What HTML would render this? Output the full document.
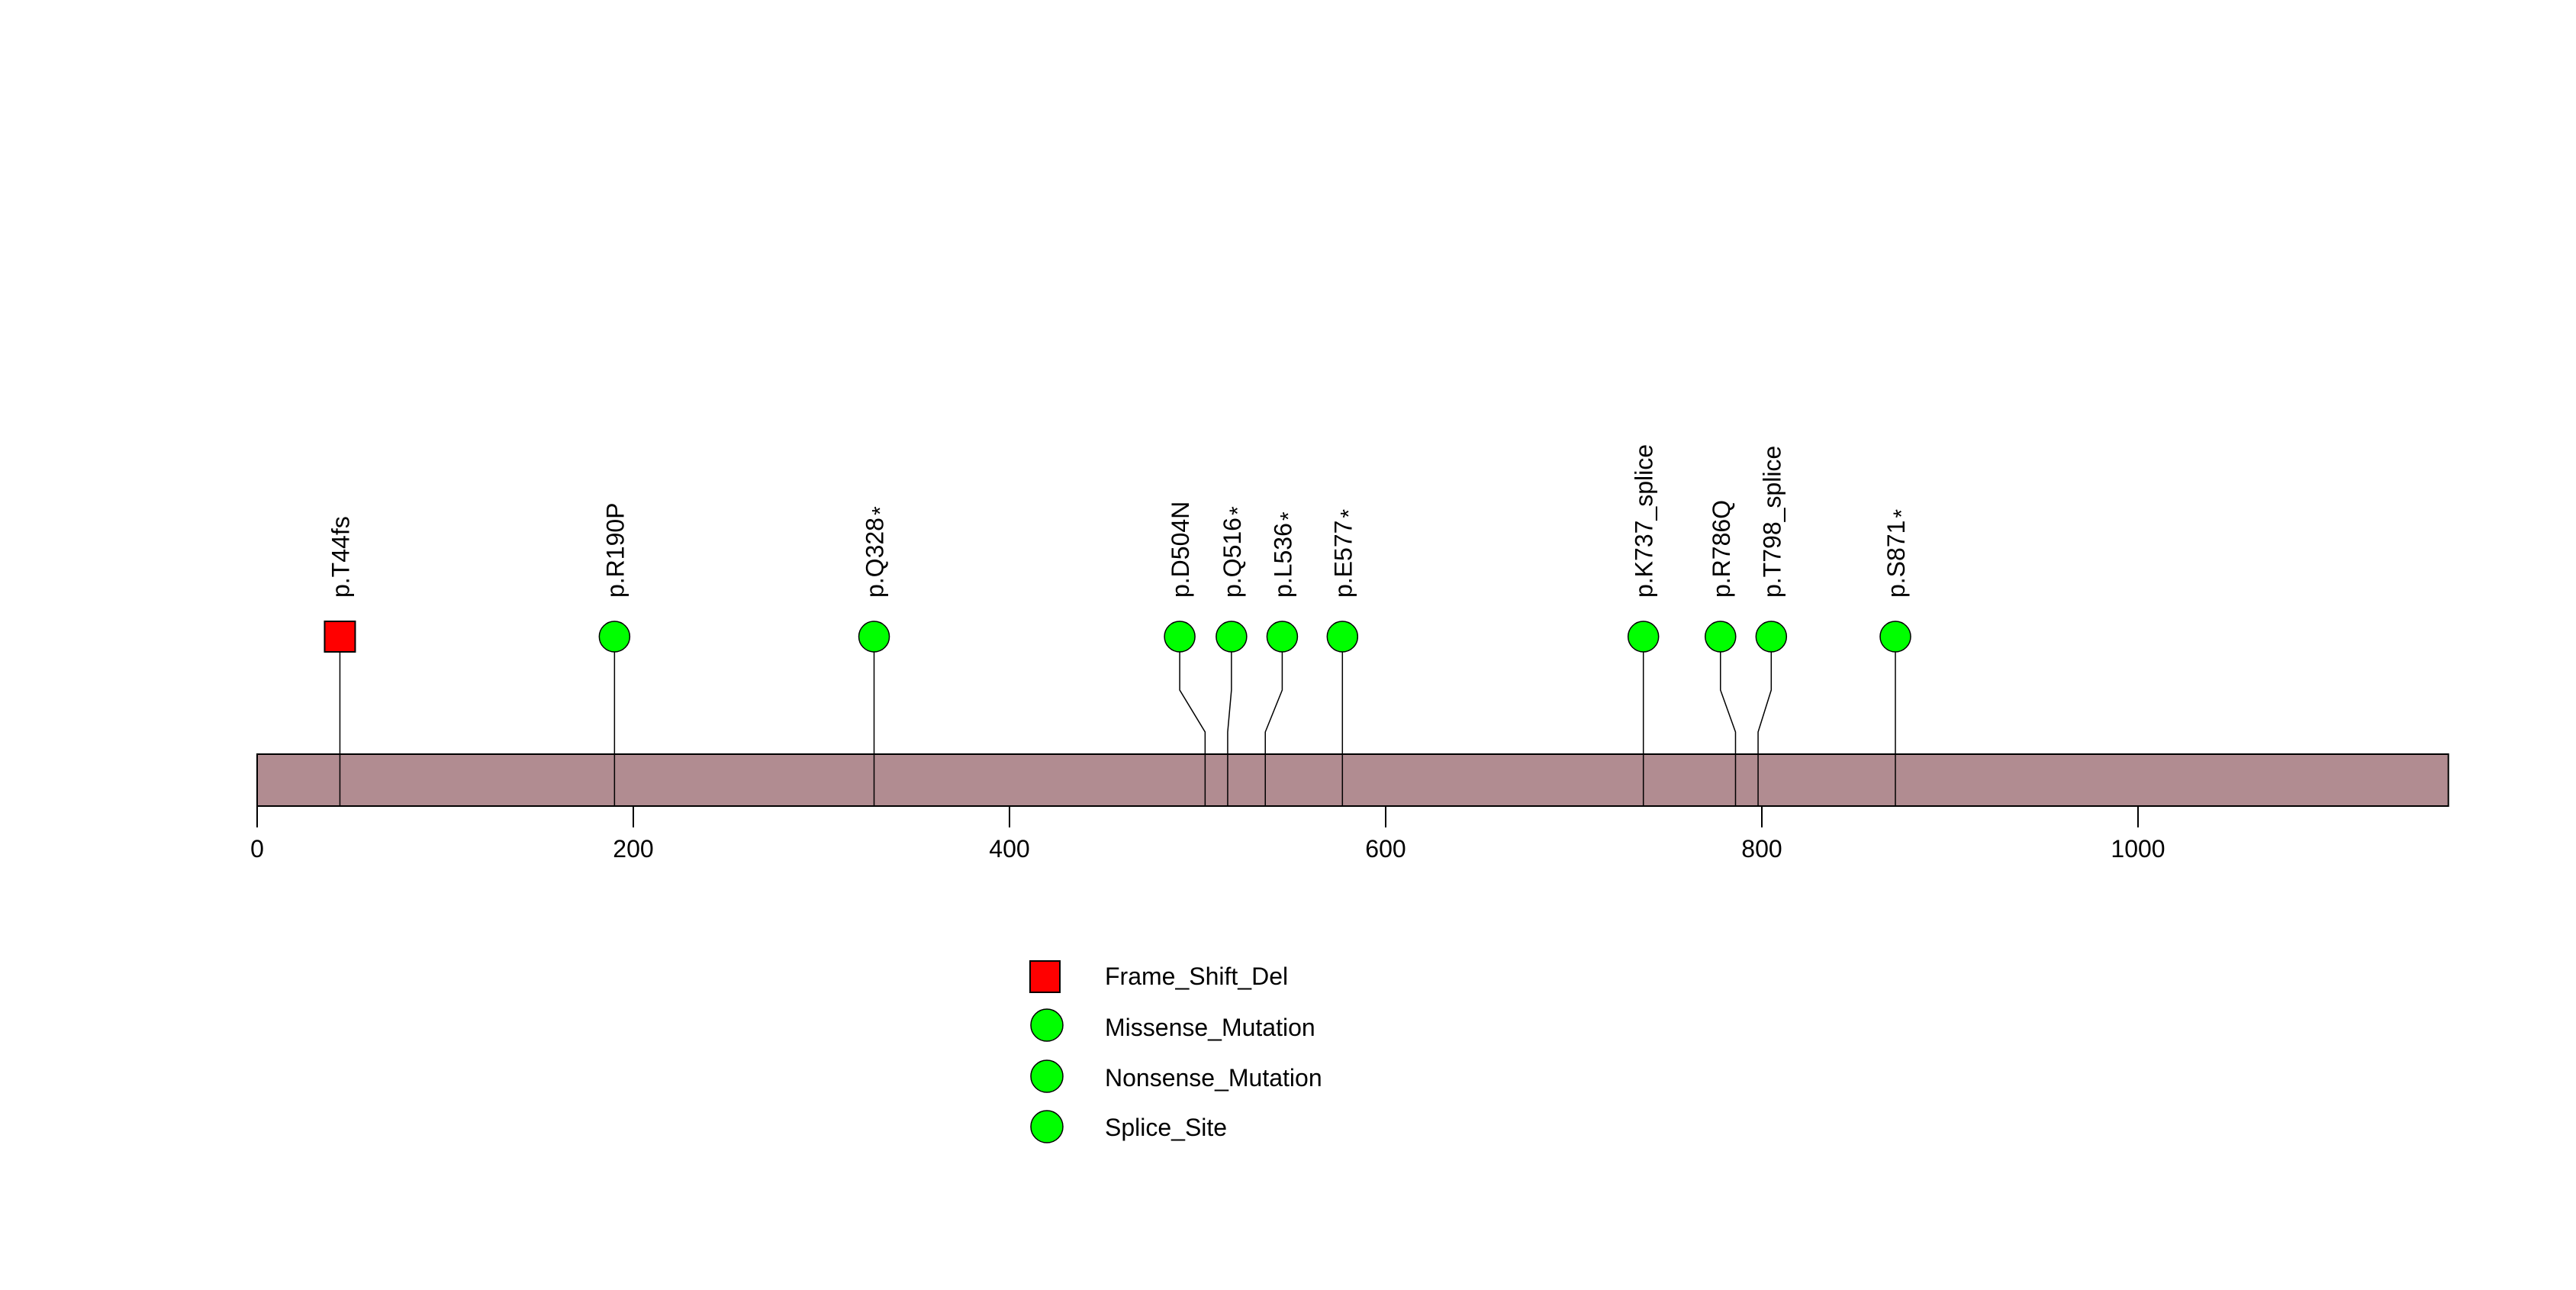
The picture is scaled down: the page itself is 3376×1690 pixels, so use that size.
<!DOCTYPE html>
<html><head><meta charset="utf-8"><style>
html,body{margin:0;padding:0;background:#fff;}
svg{display:block;font-family:"Liberation Sans",sans-serif;}
</style></head><body>
<svg id="chart" width="3376" height="1690" viewBox="0 0 3376 1690" xmlns="http://www.w3.org/2000/svg">
<rect x="0" y="0" width="3376" height="1690" fill="#fff"/>
<g id="lines"></g>
<rect id="pbar" y="988" height="68" fill="#B18C91" stroke="#000" stroke-width="2"/>
<g id="inlines"></g>
<g id="axis"></g>
<g id="marks"></g>
<g id="labels"></g>
<g>
<rect x="1350" y="1259" width="39" height="41" fill="#f00" stroke="#000" stroke-width="2"/>
<text x="1448" y="1290" font-size="32">Frame_Shift_Del</text>
<circle cx="1372" cy="1343" r="21" fill="#0f0" stroke="#000" stroke-width="1.5"/>
<text x="1448" y="1357" font-size="32">Missense_Mutation</text>
<circle cx="1372" cy="1410" r="21" fill="#0f0" stroke="#000" stroke-width="1.5"/>
<text x="1448" y="1423" font-size="32">Nonsense_Mutation</text>
<circle cx="1372" cy="1476" r="21" fill="#0f0" stroke="#000" stroke-width="1.5"/>
<text x="1448" y="1488" font-size="32">Splice_Site</text>
</g>
</svg>
<script>
const proteinLength = 1165;
const positions = [44,190,328,504,516,536,577,737,786,798,871];
const labelNames = ["p.T44fs","p.R190P","p.Q328","p.D504N","p.Q516","p.L536","p.E577","p.K737_splice","p.R786Q","p.T798_splice","p.S871"];
const starFlags = [0,0,1,0,1,1,1,0,0,0,1];
const mutTypes = ["fs","mis","non","mis","non","non","non","spl","mis","spl","non"];
// displayed (de-overlapped) marker positions in protein units
const markerPos = [44,190,328,490.5,518,545,577,737,778,805,871];
const ticks = [0,200,400,600,800,1000];

const NS="http://www.w3.org/2000/svg";
const X0=337, SC=2.465;
function xs(v){return X0+v*SC;}
function mk(tag,attrs,parent){const e=document.createElementNS(NS,tag);for(const k in attrs)e.setAttribute(k,attrs[k]);parent.appendChild(e);return e;}
const pbar=document.getElementById('pbar');
pbar.setAttribute('x',xs(0));pbar.setAttribute('width',xs(proteinLength)-xs(0));
const axis=document.getElementById('axis');
const lnA=mk('line',{x1:xs(0),x2:xs(1000),y1:1056,y2:1056,stroke:'#000','stroke-width':2},axis);


ticks.forEach(t=>{
  const l=mk('line',{x1:xs(t),x2:xs(t),y1:1056,y2:1084,stroke:'#000','stroke-width':2},axis);
  
  
  const tx=mk('text',{x:xs(t),y:1123,'font-size':32,'text-anchor':'middle'},axis);
  tx.textContent=t;
  
  
});
const lines=document.getElementById('lines'),inl=document.getElementById('inlines'),marks=document.getElementById('marks'),labels=document.getElementById('labels');
positions.forEach((p,i)=>{
  const mx=xs(markerPos[i]), px=xs(p), cy=834;
  const pl=mk('polyline',{points:`${mx},${cy} ${mx},904 ${px},959 ${px},988`,fill:'none',stroke:'#000','stroke-width':1.5},lines);
  
  
  const il=mk('line',{x1:px,x2:px,y1:988,y2:1056,stroke:'#000','stroke-width':1.5},inl);
  
  
  let m;
  if(mutTypes[i]==='fs'){
    m=mk('rect',{x:mx-20,y:cy-20,width:40,height:40,fill:'#f00',stroke:'#000','stroke-width':2},marks);
  } else {
    m=mk('circle',{cx:mx,cy:cy,r:20,fill:'#0f0',stroke:'#000','stroke-width':1.5},marks);
  }
  
  
  const tx=mk('text',{x:0,y:0,'font-size':32,transform:`translate(${mx+12},783) rotate(-90)`},labels);
  tx.textContent=labelNames[i];
  if(starFlags[i]){const s=mk('tspan',{'font-size':30,dx:3,dy:6},tx);s.textContent='*';}
  
  
});
</script>
</body></html>
